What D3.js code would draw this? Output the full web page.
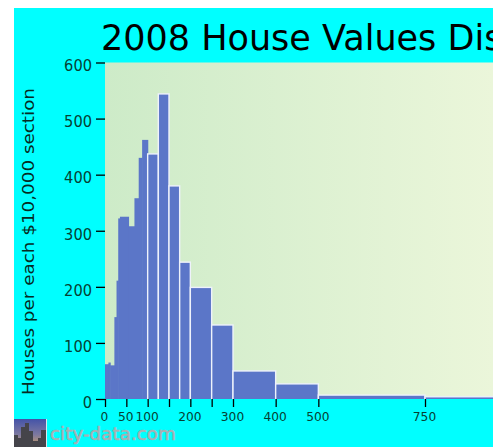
<!DOCTYPE html>
<html><head><meta charset="utf-8">
<script src="https://cdn.jsdelivr.net/npm/d3@7/dist/d3.min.js"></script>
<style>html,body{margin:0;padding:0;background:#fff;overflow:hidden}svg{display:block}</style>
</head><body><svg id="c" width="495" height="447"></svg>
<script>
const binEdges=[0,8,12,22,27,31,35,55,69,79,87,100,125,150,175,200,250,300,400,500,750,1000];
const binValues=[62,65,60,146,211,322,325,308,358,430,462,437,544,380,244,199,132,50,27,7,4];
const yTicks=[0,100,200,300,400,500,600];
const xTicks=[0,50,100,150,200,250,300,400,500,750];
const xTickLabels=["0","50","100","","200","","300","400","500","750"];
const titleText="2008 House Values Dis";
const yTitle="Houses per each $10,000 section";
const brand="city-data.com";
const skylineX=[0,4,7,11,15,19,24,27];
const skylineW=[4,3,4,4,4,5,3,5];
const skylineH=[12,9,20,24,16,6,9,17];

const svg=d3.select("#c");
const x=d3.scaleLinear().domain([0,750]).range([105,425]);
const y=d3.scaleLinear().domain([0,600]).range([399,62.5]);
const defs=svg.append("defs");
const g=defs.append("linearGradient").attr("id","bg");
g.append("stop").attr("offset","0").attr("stop-color","#cdebc8");
g.append("stop").attr("offset","1").attr("stop-color","#ebf6da");
const lg=defs.append("linearGradient").attr("id","logo").attr("x1",0).attr("x2",0).attr("y1",0).attr("y2",1);
lg.append("stop").attr("offset","0").attr("stop-color","#4453a8");
lg.append("stop").attr("offset","0.55").attr("stop-color","#7c78a0");
lg.append("stop").attr("offset","1").attr("stop-color","#d0a060");
defs.append("clipPath").attr("id","pc").append("rect").attr("x",105).attr("y",55).attr("width",388).attr("height",344);
defs.append("clipPath").attr("id","page").append("rect").attr("x",14).attr("y",8).attr("width",479).attr("height",439);

svg.append("rect").attr("x",14).attr("y",8).attr("width",479).attr("height",439).attr("fill","#00ffff");
svg.append("rect").attr("x",105).attr("y",62.5).attr("width",388).attr("height",336.5).attr("fill","url(#bg)");

const bars=binValues.map((v,i)=>({v,a:binEdges[i],b:binEdges[i+1]}));
svg.append("g").attr("clip-path","url(#pc)").selectAll("rect").data(bars).join("rect")
  .attr("x",d=>x(d.a)).attr("y",d=>y(d.v))
  .attr("width",d=>x(d.b)-x(d.a)+(d.a<100?0.6:0)).attr("height",d=>y(0)-y(d.v)+2)
  .attr("fill","#5b76c8")
  .attr("stroke",d=>d.a>=100?"#eef2fb":"none").attr("stroke-width",1.4);

const ya=svg.append("g").attr("transform","translate(105,0)")
  .call(d3.axisLeft(y).tickValues(yTicks).tickSize(9).tickPadding(4));
ya.select(".domain").remove();
ya.selectAll("line").attr("stroke","#000").attr("stroke-width",1.3);
ya.selectAll("text").attr("font-family","'DejaVu Sans',sans-serif").attr("font-size",16.5).attr("dy","0.5em").attr("fill","#063f33")
  .attr("textLength",d=>String(d).length*9.3).attr("lengthAdjust","spacingAndGlyphs");

const xa=svg.append("g").attr("transform","translate(0,399)")
  .call(d3.axisBottom(x).tickValues(xTicks).tickFormat((d,i)=>xTickLabels[i]).tickSize(8).tickPadding(5));
xa.select(".domain").remove();
xa.selectAll("line").attr("stroke","#000").attr("stroke-width",1.3);
xa.selectAll("text").attr("font-family","'DejaVu Sans',sans-serif").attr("font-size",13).attr("dx",-1).attr("fill","#063f33")
  .attr("textLength",(d,i)=>xTickLabels[i].length*7.8).attr("lengthAdjust","spacingAndGlyphs");

svg.append("g").attr("clip-path","url(#page)").append("text").attr("x",101).attr("y",50)
  .attr("font-family","'DejaVu Sans',sans-serif").attr("font-size",35).attr("fill","#000").text(titleText);
svg.append("text").attr("transform","translate(33.5,241.5) rotate(-90)").attr("text-anchor","middle")
  .attr("font-family","'DejaVu Sans',sans-serif").attr("font-size",15.5).attr("fill","#062a22")
  .attr("textLength",307).attr("lengthAdjust","spacingAndGlyphs").text(yTitle);

svg.append("rect").attr("x",14).attr("y",419).attr("width",32).attr("height",28).attr("fill","url(#logo)");
svg.append("g").selectAll("rect").data(skylineX).join("rect")
  .attr("x",d=>14+d).attr("width",(d,i)=>skylineW[i]).attr("y",(d,i)=>447-skylineH[i]).attr("height",(d,i)=>skylineH[i]).attr("fill","#45444a");
svg.append("rect").attr("x",46).attr("y",419).attr("width",1).attr("height",28).attr("fill","#d8e8ee");
svg.append("text").attr("x",50).attr("y",440).attr("font-family","'DejaVu Sans',sans-serif").attr("font-size",18)
  .attr("textLength",126).attr("lengthAdjust","spacingAndGlyphs").attr("fill","#a8b0b4").attr("stroke","#a8b0b4").attr("stroke-width",0.6).text(brand);
</script></body></html>
